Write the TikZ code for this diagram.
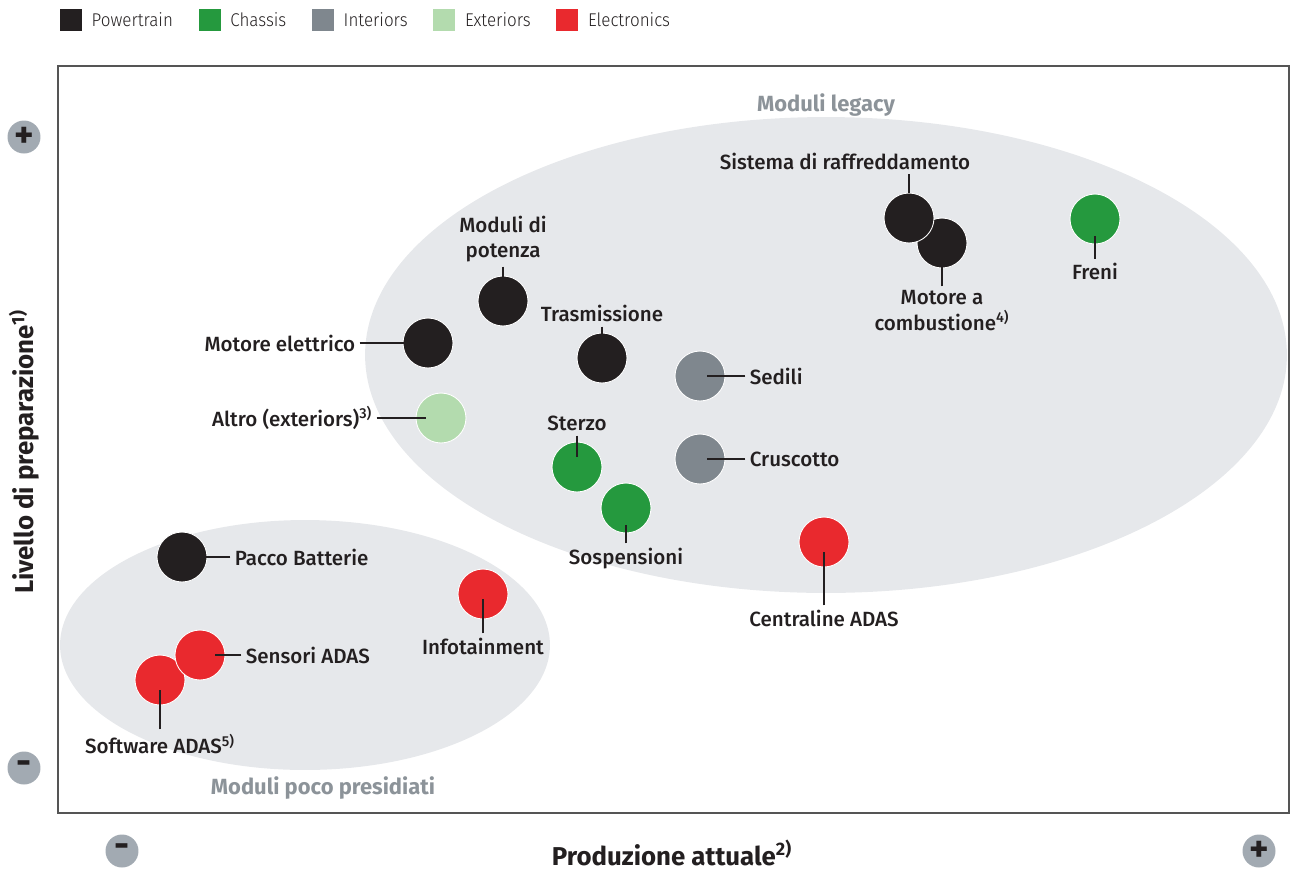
\documentclass[tikz,border=0pt]{standalone}
\usepackage{fontspec}
\setmainfont{Fira Sans}
\newfontfamily\medfont{Fira Sans Medium}
\newfontfamily\lightfont{Fira Sans Light}[FakeStretch=0.92]
\usetikzlibrary{positioning}
\definecolor{pt}{HTML}{231F20}
\definecolor{ch}{HTML}{25993E}
\definecolor{in}{HTML}{7F878E}
\definecolor{ex}{HTML}{B3DBAE}
\definecolor{el}{HTML}{E9292E}
\definecolor{zone}{HTML}{E6E8EB}
\definecolor{axgray}{HTML}{A2AAB2}
\definecolor{zonetext}{HTML}{8C9399}
\definecolor{framegray}{HTML}{555555}

\begin{document}
\begin{tikzpicture} [
	x=0.02cm, y=-0.02cm,
	modulo/.style = {circle, minimum size=1cm, inner sep=0pt, draw=white, line width=0.5pt},
	lbl/.style = {inner sep=0pt, align=center, text=pt, font=\medfont\fontsize{11.7}{14.5}\selectfont},
	leader/.style = {draw=pt, line width=0.8pt, shorten <=0.08cm, shorten >=0.2cm},
	legsq/.style = {rectangle, minimum size=0.44cm, inner sep=0pt},
	legtxt/.style = {inner sep=0pt, text=pt, font=\lightfont\fontsize{10.5}{12}\selectfont},
	axbtn/.style = {circle, fill=axgray, minimum size=0.66cm, inner sep=0pt, text=pt, font=\bfseries\fontsize{21}{21}\selectfont},
	axtitle/.style = {inner sep=0pt, text=pt, font=\bfseries\fontsize{14.7}{17}\selectfont},
	zonetxt/.style = {inner sep=0pt, text=zonetext, font=\bfseries\fontsize{12.5}{14}\selectfont}
]
\useasboundingbox (0,0) rectangle (1296,870);

% zones
\fill[zone] (826,355) ellipse [x radius=9.22cm, y radius=4.76cm];
\fill[zone] (305,645) ellipse [x radius=4.9cm, y radius=2.5cm];
\draw[framegray, line width=0.9pt] (58,66) rectangle (1289,813);

\node (legacy) [zonetxt] at (826,105) {Moduli legacy};
\node (poco) [zonetxt] at (323,788) {Moduli poco presidiati};

% legend
\node (sqPt) [legsq, fill=pt] at (71,20) {};
\node (txPt) [legtxt, right=0.18cm of sqPt] {Powertrain};
\node (sqCh) [legsq, fill=ch, right=0.5cm of txPt] {};
\node (txCh) [legtxt, right=0.18cm of sqCh] {Chassis};
\node (sqIn) [legsq, fill=in, right=0.5cm of txCh] {};
\node (txIn) [legtxt, right=0.18cm of sqIn] {Interiors};
\node (sqEx) [legsq, fill=ex, right=0.5cm of txIn] {};
\node (txEx) [legtxt, right=0.18cm of sqEx] {Exteriors};
\node (sqEl) [legsq, fill=el, right=0.5cm of txEx] {};
\node (txEl) [legtxt, right=0.18cm of sqEl] {Electronics};

% axes
\node (yPlus) [axbtn] at (24,137) {+};
\node (yMinus) [axbtn] at (24,768) {-};
\node (xMinus) [axbtn] at (122,851) {-};
\node (xPlus) [axbtn] at (1259,851) {+};
\node (yTitle) [axtitle, rotate=90] at (24,452) {Livello di preparazione\textsuperscript{1)}};
\node (xTitle) [axtitle] at (672,853) {Produzione attuale\textsuperscript{2)}};

% modules
\node (motEl) [modulo, fill=pt] at (428,343) {};
\node (modPot) [modulo, fill=pt] at (503,301) {};
\node (trasm) [modulo, fill=pt] at (602,358) {};
\node (altro) [modulo, fill=ex] at (441,418) {};
\node (sterzo) [modulo, fill=ch] at (577,467) {};
\node (sosp) [modulo, fill=ch] at (626,508) {};
\node (sedili) [modulo, fill=in] at (700,376) {};
\node (crusc) [modulo, fill=in] at (700,459) {};
\node (centr) [modulo, fill=el] at (824,542) {};
\node (motComb) [modulo, fill=pt] at (942,243) {};
\node (raffr) [modulo, fill=pt] at (909,218) {};
\node (freni) [modulo, fill=ch] at (1095,219) {};
\node (pacco) [modulo, fill=pt] at (182,557) {};
\node (info) [modulo, fill=el] at (483,594) {};
\node (softw) [modulo, fill=el] at (160,680) {};
\node (sensori) [modulo, fill=el] at (200,655) {};

\node (lMotEl) [lbl, left=0.94cm of motEl] {Motore elettrico};
\node (lModPot) [lbl, above=0.26cm of modPot] {Moduli di\\potenza};
\node (lTrasm) [lbl, above=0.2cm of trasm] {Trasmissione};
\node (lAltro) [lbl, left=0.86cm of altro] {Altro (exteriors)\textsuperscript{3)}};
\node (lSterzo) [lbl, above=0.2cm of sterzo] {Sterzo};
\node (lSosp) [lbl, below=0.28cm of sosp] {Sospensioni};
\node (lSedili) [lbl, right=0.48cm of sedili] {Sedili};
\node (lCrusc) [lbl, right=0.48cm of crusc] {Cruscotto};
\node (lCentr) [lbl, below=0.84cm of centr] {Centraline ADAS};
\node (lRaffr) [lbl, above=0.45cm of raffr, xshift=-1.28cm] {Sistema di raffreddamento};
\node (lMotComb) [lbl, below=0.44cm of motComb] {Motore a\\combustione\textsuperscript{4)}};
\node (lFreni) [lbl, below=0.37cm of freni] {Freni};
\node (lPacco) [lbl, right=0.54cm of pacco] {Pacco Batterie};
\node (lInfo) [lbl, below=0.36cm of info] {Infotainment};
\node (lSensori) [lbl, right=0.4cm of sensori] {Sensori ADAS};
\node (lSoftw) [lbl, below=0.56cm of softw] {Software ADAS\textsuperscript{5)}};

% leaders
\draw[leader] (lMotEl) -- (motEl.center);
\draw[leader] (lModPot.south -| modPot) -- (modPot.center);
\draw[leader] (lTrasm.south -| trasm) -- (trasm.center);
\draw[leader, shorten >=0.3cm] (lAltro) -- (altro.center);
\draw[leader] (lSterzo.south -| sterzo) -- (sterzo.center);
\draw[leader, shorten >=0.34cm] (lSosp.north -| sosp) -- (sosp.center);
\draw[leader, shorten >=0.14cm] (lSedili) -- (sedili.center);
\draw[leader, shorten >=0.14cm] (lCrusc) -- (crusc.center);
\draw[leader] (lCentr.north -| centr) -- (centr.center);
\draw[leader, shorten >=0pt] (lRaffr.south -| raffr) -- (raffr.north);
\draw[leader] (lMotComb.north -| motComb) -- (motComb.center);
\draw[leader, shorten >=0.34cm] (lFreni.north -| freni) -- (freni.center);
\draw[leader] (lPacco) -- (pacco.center);
\draw[leader, shorten >=0.1cm] (lInfo.north -| info) -- (info.center);
\draw[leader, shorten >=0.3cm] (lSensori) -- (sensori.center);
\draw[leader] (lSoftw.north -| softw) -- (softw.center);

\end{tikzpicture}
\end{document}
